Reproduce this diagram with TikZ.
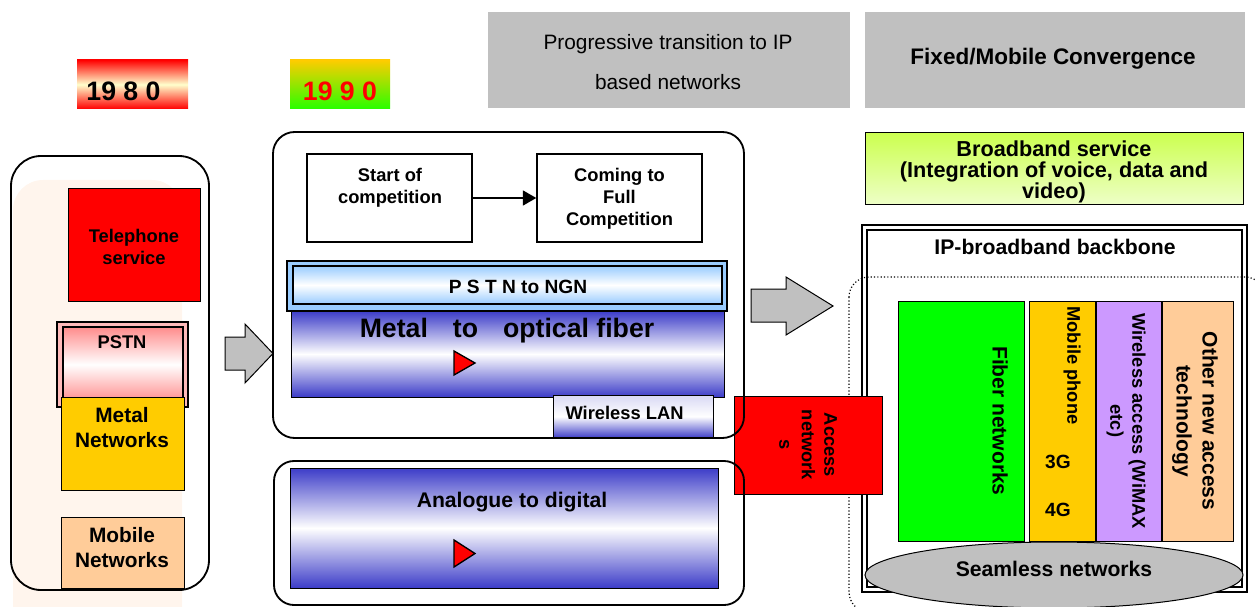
\documentclass[tikz,border=0pt]{standalone}
\usepackage{fontspec}
\setmainfont{Liberation Sans}
\usetikzlibrary{arrows.meta}

\definecolor{fgray}{RGB}{192,192,192}
\definecolor{fgold}{RGB}{255,204,0}
\definecolor{fpeach}{RGB}{255,204,153}
\definecolor{flilac}{RGB}{204,153,255}
\definecolor{fgreen}{RGB}{0,255,0}
\definecolor{fgreenb}{RGB}{40,255,0}
\definecolor{fblue}{RGB}{60,60,200}
\definecolor{fsky}{RGB}{153,204,255}
\definecolor{fpink}{RGB}{255,140,140}
\definecolor{fcream}{RGB}{255,255,204}
\definecolor{flime}{RGB}{204,255,80}
\definecolor{flimel}{RGB}{238,255,200}
\definecolor{fdots}{RGB}{255,245,237}

\newcommand{\fsz}[2]{\fontsize{#1}{#2}\selectfont}

\tikzset{
  txt/.style={align=center, inner sep=0pt, font=\bfseries\fsz{11}{13.2}},
  vtxt/.style={txt, rotate=-90},
  pbox/.style={draw=black, line width=0.6pt},
  band/.style={draw=black, line width=0.6pt, top color=fblue, bottom color=fblue, middle color=white},
  redtri/.style={fill=red, draw=black, line width=0.8pt},
  blockarrow/.style={fill=fgray, draw=black, line width=0.6pt},
  frame/.style={draw=black, line width=1.1pt},
  cbox/.style={draw=black, line width=0.9pt, minimum width=99pt, minimum height=52.8pt, inner sep=0pt}
}

\begin{document}
\begin{tikzpicture}[x=0.6pt,y=-0.6pt]
\useasboundingbox (0,0) rectangle (1255,607);

%background dots of the 1980 column
\fill[fdots, rounded corners=18pt] (13,180) rectangle (182,640);

% years
\fill[top color=red, bottom color=red, middle color=fcream] (77,60) rectangle (188,109);
\node[txt, font=\bfseries\fsz{16}{19}] (y1980) at (123.5,91) {19 8 0};
\fill[top color=fgold, bottom color=fgreenb] (290,60) rectangle (390,109);
\node[txt, font=\bfseries\fsz{16}{19}, text=red] (y1990) at (340,91) {19 9 0};

% headings
\fill[fgray] (488,12) rectangle (850,108);
\node[txt, font=\mdseries\fsz{12.5}{24}] (ttrans) at (668,62) {Progressive transition to IP\\based networks};
\fill[fgray] (865,12) rectangle (1245,108);
\node[txt, font=\bfseries\fsz{13.5}{16}] (tconv) at (1053,59) {Fixed/Mobile Convergence};

% 1980
\draw[frame, rounded corners=18pt] (11,156) rectangle (209,590);
\draw[pbox, fill=red] (68,189) rectangle (200,301);
\node[txt] (tphone) at (134,247) {Telephone\\service};
\draw[line width=1.3pt, fill=fpink!60] (57,322) rectangle (188,407);
\draw[line width=1.3pt, top color=fpink, bottom color=fpink, middle color=white] (63,327) rectangle (183,402);
\node[txt] (tpstn) at (122,342) {PSTN};
\draw[pbox, fill=fgold] (61,397) rectangle (184,490);
\node[txt, font=\bfseries\fsz{12.5}{15}] (tmetal) at (122,428) {Metal\\Networks};
\draw[pbox, fill=fpeach] (61,517) rectangle (184,588);
\node[txt, font=\bfseries\fsz{12.5}{15}] (tmobile) at (122,548) {Mobile\\Networks};

\draw[blockarrow] (225,337)--(245,337)--(245,324)--(273,353.5)--(245,383)--(245,370)--(225,370)--cycle;

% 1990
\node[cbox] (start) at (389.5,198) {};
\node[txt] (tstart) at (390,188) {Start of\\competition};
\node[cbox] (coming) at (619.5,198) {};
\node[txt] (tcoming) at (619.5,199) {Coming to\\Full\\Competition};
\draw[line width=0.8pt, -{Triangle[length=8pt,width=9pt]}] (start) -- (coming);

\draw[line width=1.1pt, fill=fsky] (287,261) rectangle (727,311);
\draw[line width=1.6pt, top color=fsky, bottom color=fsky, middle color=white] (293,266) rectangle (722,304);
\node[txt, font=\bfseries\fsz{11.5}{14}] (tngn) at (518,287) {P S T N to NGN};

\draw[band] (291,311) rectangle (724,397);
\node[txt, font=\bfseries\fsz{16}{19}] (tfiber) at (507,331) {Metal\hspace{15pt}to\hspace{15pt}optical fiber};
\draw[redtri] (454,351) -- (475,363) -- (454,375) -- cycle;

\draw[pbox, top color=fblue!20, bottom color=fblue, middle color=white] (553,395) rectangle (713,438);
\node[txt] (twlan) at (624.5,413) {Wireless LAN};

\draw[band] (290,468) rectangle (718,588);
\node[txt, font=\bfseries\fsz{12.7}{15}] (tanalog) at (512,502) {Analogue to digital};
\draw[redtri] (454,540) -- (475,553.5) -- (454,567) -- cycle;

% convergence
\draw[pbox, top color=flime, bottom color=flimel] (865,133) rectangle (1243,205);
\node[txt, font=\bfseries\fsz{13}{12.6}] (tbroad) at (1054,172) {Broadband service\\(Integration of voice, data and\\video)};

\draw[line width=0.7pt] (862,225) rectangle (1247,592);
\draw[line width=1.6pt] (867,230) rectangle (1242,587);
\node[txt, font=\bfseries\fsz{12.7}{15}] (tbackbone) at (1055,247) {IP-broadband backbone};
\draw[line width=0.7pt, dash pattern=on 0.7pt off 1.3pt, rounded corners=12pt] (849,277) rectangle (1265,612);

\draw[pbox, fill=fgreen] (898,301) rectangle (1024,541);
\node[vtxt, font=\bfseries\fsz{12.6}{15}] (tfibnet) at (1000,421) {Fiber networks};
\draw[pbox, fill=fgold] (1029,301) rectangle (1095,541);
\node[vtxt, anchor=west] (tmobph) at (1072,306) {Mobile phone};
\node[txt, font=\bfseries\fsz{11.5}{14}] (t3g) at (1058,462) {3G};
\node[txt, font=\bfseries\fsz{11.5}{14}] (t4g) at (1058,509.5) {4G};
\draw[pbox, fill=flilac] (1096,301) rectangle (1161,541);
\node[vtxt] (twimax) at (1126,421) {Wireless access (WiMAX\\etc)};
\draw[pbox, fill=fpeach] (1162,301) rectangle (1233,541);
\node[vtxt, font=\bfseries\fsz{12.6}{15.6}] (tother) at (1195,421) {Other new access\\technology};

\draw[pbox, fill=fgray] (1054,575) ellipse [x radius=113.4pt, y radius=19.8pt];
\node[txt, font=\bfseries\fsz{12.7}{15}] (tseam) at (1054,569) {Seamless networks};

\draw[pbox, fill=red] (734,396) rectangle (882,494);
\node[vtxt, font=\bfseries\fsz{11}{13.5}] (taccess) at (808,445) {Access\\network\\s};

\draw[frame, rounded corners=13pt] (273,132) rectangle (744,438);
\draw[frame, rounded corners=12pt] (274,461) rectangle (744,605);

\draw[blockarrow] (751,289)--(786,289)--(786,277)--(833,306)--(786,335)--(786,322)--(751,322)--cycle;

\end{tikzpicture}
\end{document}
